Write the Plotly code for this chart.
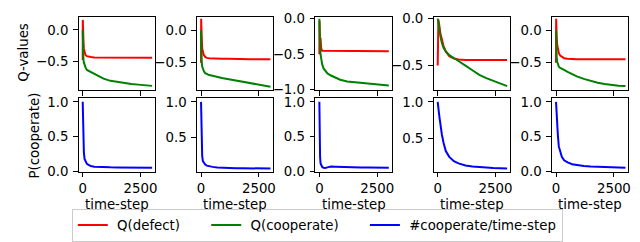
import plotly.graph_objects as go

# ---------------- data ----------------
time_steps = [0, 5, 15, 30, 50, 80, 120, 180, 250, 350, 500, 700, 900, 1200, 1500, 1800, 2100, 2400, 2700, 3000]

q_defect = [
    [-0.48, 0.16, 0.05, -0.15, -0.30, -0.37, -0.40, -0.42, -0.43, -0.435, -0.44, -0.44, -0.445, -0.44, -0.445, -0.44, -0.445, -0.445, -0.44, -0.445],
    [-0.50, 0.18, 0.08, -0.12, -0.28, -0.35, -0.38, -0.41, -0.425, -0.43, -0.435, -0.44, -0.44, -0.44, -0.445, -0.44, -0.445, -0.445, -0.445, -0.445],
    [-0.50, -0.03, -0.15, -0.35, -0.27, -0.42, -0.45, -0.45, -0.455, -0.45, -0.455, -0.455, -0.455, -0.46, -0.455, -0.46, -0.455, -0.46, -0.46, -0.46],
    [-0.50, -0.30, -0.05, -0.01, -0.04, -0.10, -0.16, -0.22, -0.29, -0.35, -0.40, -0.425, -0.435, -0.44, -0.44, -0.44, -0.44, -0.44, -0.44, -0.44],
    [-0.50, 0.18, 0.10, -0.10, -0.22, -0.30, -0.35, -0.39, -0.41, -0.43, -0.44, -0.445, -0.445, -0.445, -0.44, -0.445, -0.445, -0.44, -0.445, -0.445],
]

q_cooperate = [
    [0.0, -0.20, -0.40, -0.47, -0.52, -0.56, -0.60, -0.64, -0.655, -0.67, -0.70, -0.745, -0.78, -0.815, -0.835, -0.85, -0.865, -0.875, -0.885, -0.895],
    [0.0, -0.25, -0.42, -0.50, -0.56, -0.60, -0.63, -0.66, -0.675, -0.69, -0.70, -0.72, -0.735, -0.755, -0.775, -0.80, -0.82, -0.84, -0.855, -0.87],
    [0.0, -0.15, -0.30, -0.40, -0.50, -0.58, -0.64, -0.70, -0.73, -0.77, -0.80, -0.835, -0.86, -0.885, -0.895, -0.905, -0.915, -0.925, -0.93, -0.94],
    [0.0, -0.01, -0.03, -0.05, -0.08, -0.13, -0.19, -0.26, -0.31, -0.35, -0.39, -0.42, -0.45, -0.50, -0.55, -0.60, -0.635, -0.665, -0.69, -0.72],
    [0.0, -0.15, -0.35, -0.43, -0.48, -0.53, -0.56, -0.58, -0.59, -0.61, -0.64, -0.68, -0.71, -0.75, -0.785, -0.81, -0.83, -0.845, -0.855, -0.86],
]

p_cooperate = [
    [1.0, 0.85, 0.68, 0.45, 0.28, 0.18, 0.14, 0.11, 0.095, 0.08, 0.07, 0.065, 0.063, 0.06, 0.058, 0.057, 0.056, 0.056, 0.055, 0.055],
    [1.0, 0.80, 0.55, 0.35, 0.23, 0.16, 0.13, 0.11, 0.095, 0.085, 0.078, 0.07, 0.065, 0.062, 0.06, 0.058, 0.057, 0.056, 0.055, 0.055],
    [1.0, 0.70, 0.40, 0.22, 0.12, 0.08, 0.065, 0.055, 0.052, 0.06, 0.072, 0.07, 0.066, 0.063, 0.06, 0.058, 0.057, 0.056, 0.056, 0.055],
    [1.0, 0.99, 0.96, 0.92, 0.86, 0.78, 0.68, 0.55, 0.44, 0.32, 0.24, 0.18, 0.15, 0.12, 0.108, 0.098, 0.092, 0.087, 0.083, 0.08],
    [1.0, 0.95, 0.87, 0.79, 0.68, 0.52, 0.36, 0.27, 0.21, 0.16, 0.13, 0.105, 0.09, 0.078, 0.072, 0.068, 0.065, 0.062, 0.058, 0.055],
]

q_ranges = [[-0.96, 0.21], [-0.92, 0.21], [-1.003, 0.027], [-0.76, 0.02], [-0.92, 0.21]]
p_ranges = [[-0.002, 1.048], [0.01, 1.048], [-0.002, 1.048], [0.035, 1.048], [-0.002, 1.048]]

x_ticks = [0, 2500]
q_ticks = [-1.0, -0.5, 0.0]
p_ticks = [0.0, 0.5, 1.0]

names = ["Q(defect)", "Q(cooperate)", "#cooperate/time-step"]
colors = ["red", "green", "blue"]
y_titles = ["Q-values", "P(cooperate)"]
x_title = "time-step"

# ---------------- layout geometry (pixels) ----------------
W, H = 640, 242
col_left = [71, 189.7, 308.4, 427.1, 545.8]
col_w = 76.6
row_top = [5, 91]
row_h = 77

FONT = dict(family="DejaVu Sans", size=13.33, color="black")
NB = "\u00a0"

fig = go.Figure()
layout = dict(
    width=W, height=H, margin=dict(l=0, r=0, t=0, b=0),
    paper_bgcolor="white", plot_bgcolor="white",
    font=FONT, showlegend=True,
)

def axis_common():
    return dict(
        showline=True, linecolor="black", linewidth=1.07, mirror=True,
        ticks="outside", ticklen=4.7, tickwidth=1.07, tickcolor="black",
        showgrid=False, zeroline=False, tickfont=FONT,
    )

for row in range(2):
    for col in range(5):
        idx = row * 5 + col + 1
        xa = "x" if idx == 1 else f"x{idx}"
        ya = "y" if idx == 1 else f"y{idx}"
        x0 = col_left[col] / W
        x1 = (col_left[col] + col_w) / W
        y1 = 1 - row_top[row] / H
        y0 = 1 - (row_top[row] + row_h) / H
        xax = axis_common()
        xax.update(domain=[x0, x1], range=[-170, 3130], tickvals=x_ticks,
                   anchor=ya, showticklabels=(row == 1), ticklabelstandoff=0)
        yax = axis_common()
        yax.update(domain=[y0, y1], anchor=xa, tickformat=".1f", ticklabelstandoff=2)
        if row == 0:
            yax.update(range=q_ranges[col], tickvals=q_ticks)
        else:
            yax.update(range=p_ranges[col], tickvals=p_ticks)
        layout["xaxis" if idx == 1 else f"xaxis{idx}"] = xax
        layout["yaxis" if idx == 1 else f"yaxis{idx}"] = yax

        if row == 0:
            fig.add_trace(go.Scatter(x=time_steps, y=q_defect[col], mode="lines",
                                     line=dict(color=colors[0], width=2),
                                     name=NB + names[0] + NB * 5, legendrank=1,
                                     showlegend=(col == 0), xaxis=xa, yaxis=ya))
            fig.add_trace(go.Scatter(x=time_steps, y=q_cooperate[col], mode="lines",
                                     line=dict(color=colors[1], width=2),
                                     name=NB + names[1] + NB * 5, legendrank=2,
                                     showlegend=(col == 0), xaxis=xa, yaxis=ya))
        else:
            fig.add_trace(go.Scatter(x=time_steps, y=p_cooperate[col], mode="lines",
                                     line=dict(color=colors[2], width=2),
                                     name=NB + names[2], legendrank=3,
                                     showlegend=(col == 0), xaxis=xa, yaxis=ya))

annotations = [
    dict(text=y_titles[0], x=15.5 / W, y=1 - 42.5 / H, textangle=-90),
    dict(text=y_titles[1], x=27 / W, y=1 - 130 / H, textangle=-90),
]
for col in range(5):
    annotations.append(dict(text=x_title, x=(col_left[col] + col_w / 2) / W, y=1 - 203 / H))
for a in annotations:
    a.update(xref="paper", yref="paper", showarrow=False, xanchor="center",
             yanchor="middle", font=FONT)
layout["annotations"] = annotations

layout["legend"] = dict(
    orientation="h", x=64 / W, y=1 - 207 / H, xanchor="left", yanchor="top",
    bordercolor="#cccccc", borderwidth=1, bgcolor="rgba(255,255,255,0.8)",
    font=FONT, traceorder="normal",
)

fig.update_layout(**layout)
fig.write_html("out.html")
